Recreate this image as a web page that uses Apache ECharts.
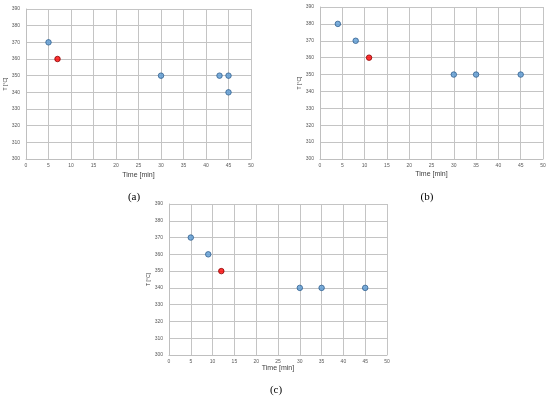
<!DOCTYPE html>
<html><head><meta charset="utf-8">
<script src="https://cdn.jsdelivr.net/npm/echarts@6/dist/echarts.min.js"></script>
<style>html,body{margin:0;padding:0;background:#fff}#c{width:550px;height:396px}</style>
</head><body><div id="c"></div>
<script>
// Panel (a)
const aTime = [5, 30, 43, 45, 45];
const aTemp = [370, 350, 350, 350, 340];
const aRedTime = [7];
const aRedTemp = [360];
// Panel (b)
const bTime = [4, 8, 30, 35, 45];
const bTemp = [380, 370, 350, 350, 350];
const bRedTime = [11];
const bRedTemp = [360];
// Panel (c)
const cTime = [5, 9, 30, 35, 45];
const cTemp = [370, 360, 340, 340, 340];
const cRedTime = [12];
const cRedTemp = [350];

const xTicks = [0, 5, 10, 15, 20, 25, 30, 35, 40, 45, 50];
const yTicks = [300, 310, 320, 330, 340, 350, 360, 370, 380, 390];
const panelLabels = ['(a)', '(b)', '(c)'];
const xName = 'Time [min]';
const yName = 'T [°C]';

const zip = (xs, ys) => xs.map((x, i) => [x, ys[i]]);

const grids = [
  {left: 26, top: 9, width: 225, height: 150},
  {left: 320, top: 7, width: 223, height: 152},
  {left: 169, top: 204, width: 218, height: 151}
];
const nameGaps = [13, 12, 6];

const xAxis = grids.map((g, i) => ({
  gridIndex: i, type: 'value',
  min: xTicks[0], max: xTicks[xTicks.length - 1], interval: 5,
  name: xName, nameLocation: 'middle', nameGap: nameGaps[i],
  nameTextStyle: {fontSize: 7, color: '#404040', fontFamily: 'Liberation Sans'},
  axisLine: {show: true, lineStyle: {color: '#bfbfbf', width: 1}},
  axisTick: {show: false},
  axisLabel: {fontSize: 5, color: '#595959', margin: 4, fontFamily: 'Liberation Sans'},
  splitLine: {show: true, lineStyle: {color: '#c4c4c4', width: 1}}
}));
const yAxis = grids.map((g, i) => ({
  gridIndex: i, type: 'value',
  min: yTicks[0], max: yTicks[yTicks.length - 1], interval: 10,
  name: yName, nameLocation: 'middle', nameGap: 17, nameRotate: 90,
  nameTextStyle: {fontSize: 5, color: '#404040', fontFamily: 'Liberation Sans'},
  axisLine: {show: true, lineStyle: {color: '#bfbfbf', width: 1}},
  axisTick: {show: false},
  axisLabel: {fontSize: 5, color: '#595959', margin: 6, fontFamily: 'Liberation Sans'},
  splitLine: {show: true, lineStyle: {color: '#c4c4c4', width: 1}}
}));

const blueStyle = {color: '#5b9bd5', borderColor: '#2f5f8f', borderWidth: 1};
const redStyle = {color: '#ff0000', borderColor: '#8b0000', borderWidth: 1};
const sets = [[aTime, aTemp, aRedTime, aRedTemp], [bTime, bTemp, bRedTime, bRedTemp], [cTime, cTemp, cRedTime, cRedTemp]];
const series = [];
sets.forEach((s, i) => {
  series.push({type: 'scatter', xAxisIndex: i, yAxisIndex: i, symbolSize: 5.5, data: zip(s[0], s[1]), itemStyle: blueStyle, silent: true});
  series.push({type: 'scatter', xAxisIndex: i, yAxisIndex: i, symbolSize: 5.5, data: zip(s[2], s[3]), itemStyle: redStyle, silent: true});
});

const labelPos = [[129, 194], [422, 194], [271, 387]];
const title = panelLabels.map((t, i) => ({
  text: t, left: labelPos[i][0], top: labelPos[i][1] - 7,
  textAlign: 'center',
  textStyle: {fontSize: 11, fontWeight: 'normal', color: '#000', fontFamily: 'Liberation Serif'}
}));

const chart = echarts.init(document.getElementById('c'), null, {renderer: 'canvas'});
chart.setOption({animation: false, backgroundColor: '#fff', grid: grids, xAxis, yAxis, series, title});
</script></body></html>
